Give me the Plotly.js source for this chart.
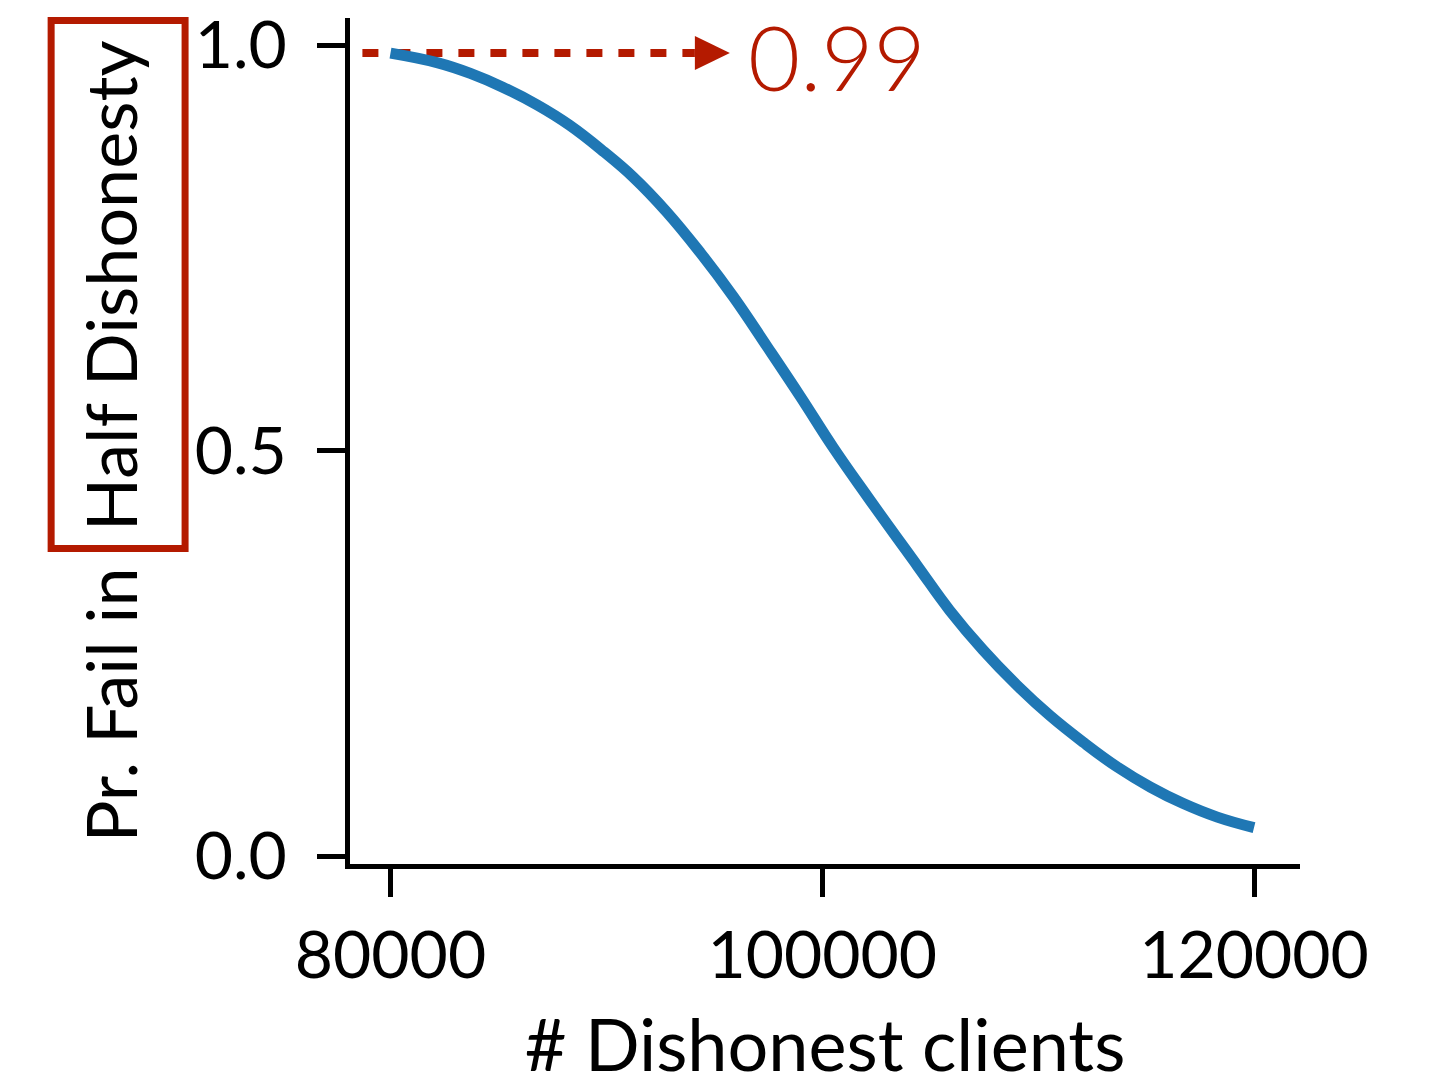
<!DOCTYPE html>
<html>
<head>
<meta charset="utf-8">
<script src="https://cdn.plot.ly/plotly-3.0.1.min.js"></script>
<style>
  html, body { margin: 0; padding: 0; background: #ffffff; }
  #chart { width: 1429px; height: 1086px; }
</style>
</head>
<body>
<div id="chart"></div>
<script>
// Number of dishonest clients and the probability that the protocol fails
const clients = [80000, 82200, 83700, 85200, 86800, 88300, 89900, 91250, 92800,
                 94350, 95900, 97450, 99000, 100500, 102100, 104400, 105900,
                 107450, 109000, 110550, 112100, 113650, 115200, 116700,
                 118300, 120000];
const failProb = [0.990, 0.978, 0.965, 0.948, 0.926, 0.901, 0.868, 0.837, 0.794,
                  0.744, 0.689, 0.628, 0.566, 0.504, 0.443, 0.358, 0.303,
                  0.254, 0.211, 0.173, 0.140, 0.110, 0.085, 0.065,
                  0.048, 0.035];

const xTicks = [80000, 100000, 120000];
const yTicks = [0.0, 0.5, 1.0];

const xTitle = '# Dishonest clients';
const yTitleLead = 'Pr. Fail in';
const yTitleBoxed = 'Half Dishonesty';

const FONT = 'Lato, "Open Sans", sans-serif';
const BLUE = '#1f77b4';
const RED = '#b41a00';

// value highlighted by the dashed arrow
const startProb = failProb[0];
const arrowFrom = 78700;
const arrowTo = 94100;
const labelAt = 96480;

const traces = [{
  type: 'scatter',
  mode: 'lines',
  x: clients,
  y: failProb,
  line: { color: BLUE, width: 11, shape: 'spline', smoothing: 1.2 },
  hoverinfo: 'skip'
}];

const axisCommon = {
  showline: true,
  linecolor: '#000000',
  linewidth: 5,
  ticks: 'outside',
  ticklen: 28,
  tickwidth: 5,
  tickcolor: '#000000',
  showgrid: false,
  zeroline: false,
  tickfont: { family: FONT, size: 66, color: '#000000' }
};

const layout = {
  width: 1429,
  height: 1086,
  margin: { l: 349.5, r: 129, t: 18, b: 222 },
  paper_bgcolor: '#ffffff',
  plot_bgcolor: '#ffffff',
  showlegend: false,
  xaxis: Object.assign({}, axisCommon, {
    range: [78125, 122130],
    tickvals: xTicks,
    tickformat: 'd',
    ticklabelstandoff: 2,
    title: { text: xTitle, font: { family: FONT, size: 72, color: '#000000' }, standoff: 44 }
  }),
  yaxis: Object.assign({}, axisCommon, {
    range: [-0.00986, 1.0333],
    tickvals: yTicks,
    tickformat: '.1f',
    ticklabelstandoff: 17
  }),
  shapes: [
    {
      type: 'line', xref: 'x', yref: 'y', layer: 'below',
      x0: arrowFrom, x1: arrowTo, y0: startProb, y1: startProb,
      line: { color: RED, width: 8, dash: '16px,16px' }
    },
    {
      type: 'path', xref: 'x', yref: 'y',
      xsizemode: 'pixel', ysizemode: 'pixel',
      xanchor: arrowTo, yanchor: startProb,
      path: 'M0,-17L35,0L0,17Z',
      fillcolor: RED, line: { width: 0 }
    },
    {
      // frame around the emphasised part of the y label
      type: 'rect', xref: 'paper', yref: 'paper',
      x0: -0.3146, x1: -0.1736, y0: 0.3729, y1: 0.9970,
      line: { color: RED, width: 7 }, fillcolor: 'rgba(0,0,0,0)'
    }
  ],
  annotations: [
    {
      xref: 'x', yref: 'y', x: labelAt, y: startProb,
      xanchor: 'left', yanchor: 'middle', showarrow: false, yshift: -3,
      text: startProb.toFixed(2),
      font: { family: FONT, size: 90, color: RED, weight: 300 }
    },
    {
      xref: 'paper', yref: 'paper', x: -0.2525, y: 0.6832,
      xanchor: 'center', yanchor: 'middle', showarrow: false,
      textangle: -90,
      text: yTitleBoxed,
      font: { family: FONT, size: 70, color: '#000000' }
    },
    {
      xref: 'paper', yref: 'paper', x: -0.2525, y: 0.0225,
      xanchor: 'center', yanchor: 'bottom', showarrow: false,
      textangle: -90,
      text: yTitleLead,
      font: { family: FONT, size: 70, color: '#000000' }
    }
  ]
};

Plotly.newPlot('chart', traces, layout, { displayModeBar: false, staticPlot: true });
</script>
</body>
</html>
